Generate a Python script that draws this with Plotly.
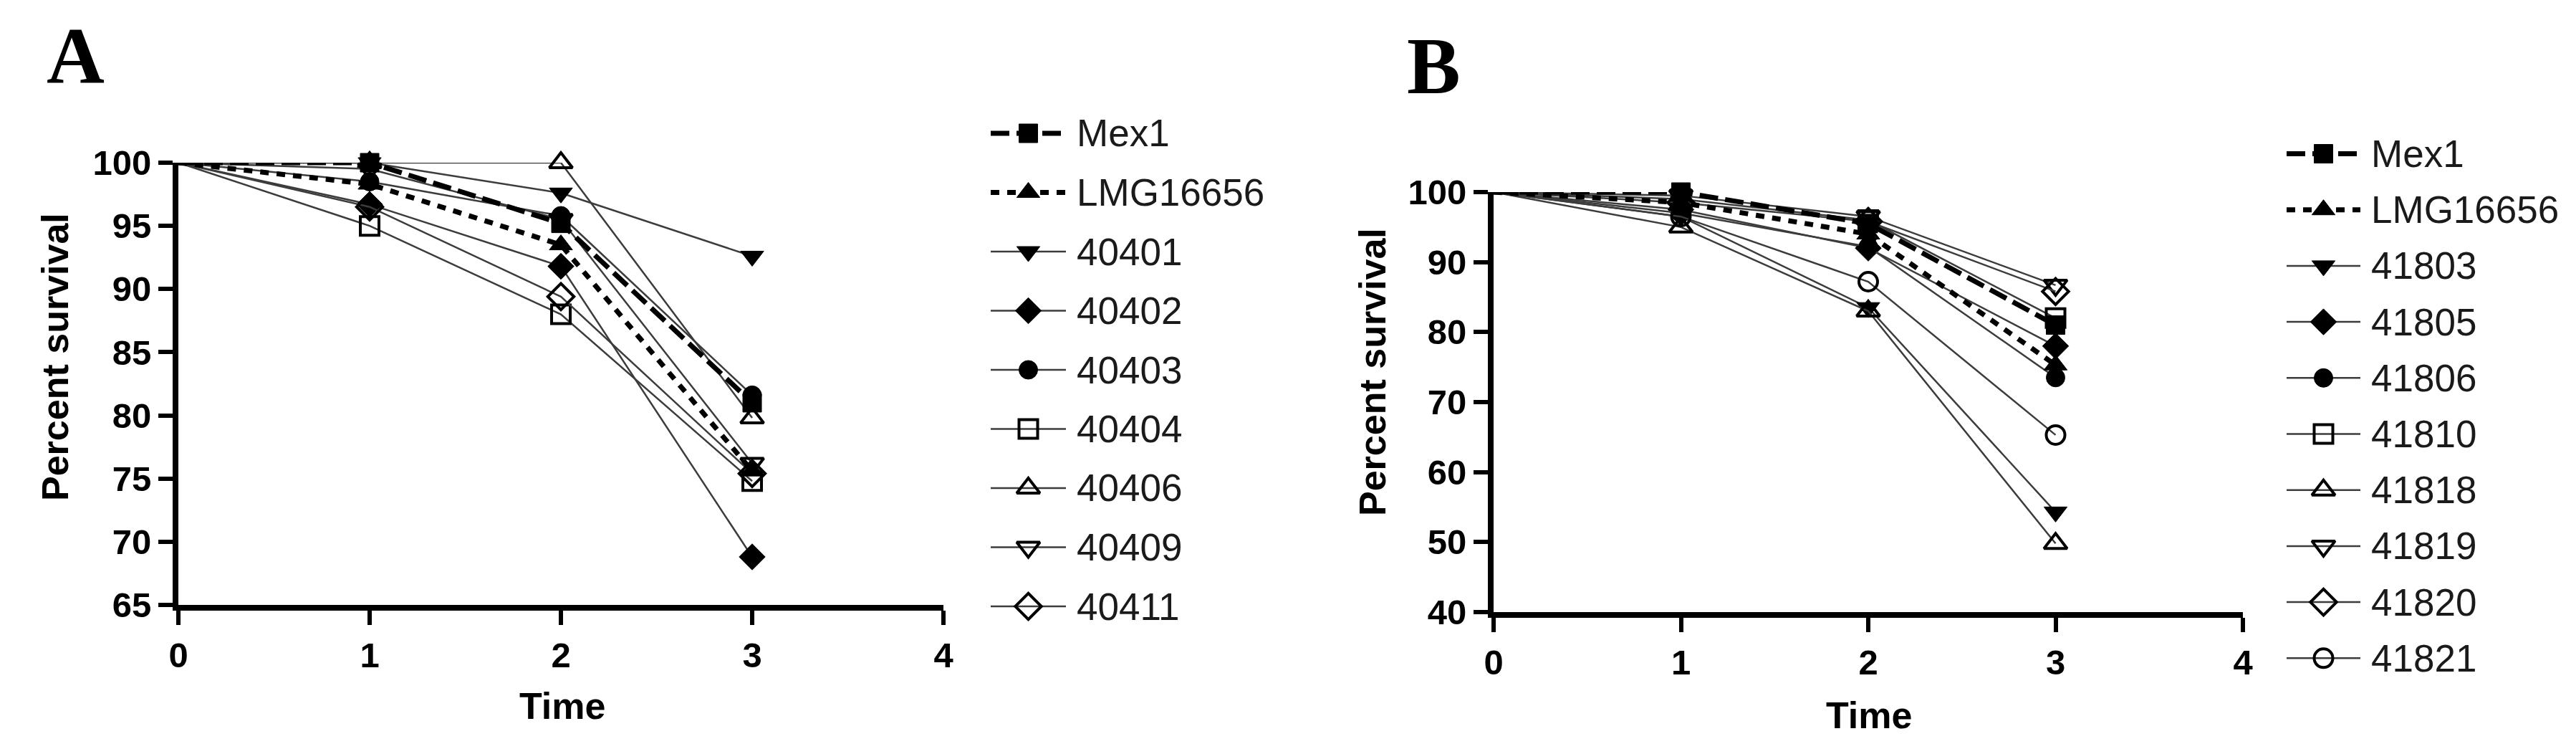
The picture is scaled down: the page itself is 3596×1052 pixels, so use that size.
import plotly.graph_objects as go

W, H = 3596, 1052

time = [0, 1, 2, 3]

# Panel A
names_a = ["Mex1", "LMG16656", "40401", "40402", "40403", "40404", "40406", "40409", "40411"]
mex1_a = [100, 100, 95.2, 81.0]
lmg_a = [100, 98.3, 93.5, 75.6]
s40401 = [100, 100, 97.6, 92.6]
s40402 = [100, 96.7, 91.8, 68.8]
s40403 = [100, 98.5, 95.8, 81.6]
s40404 = [100, 95.0, 88.0, 74.8]
s40406 = [100, 100, 100, 79.8]
s40409 = [100, 99.5, 95.5, 76.2]
s40411 = [100, 96.5, 89.4, 75.4]
values_a = [mex1_a, lmg_a, s40401, s40402, s40403, s40404, s40406, s40409, s40411]

# Panel B
names_b = ["Mex1", "LMG16656", "41803", "41805", "41806", "41810", "41818", "41819", "41820", "41821"]
mex1_b = [100, 100, 95.5, 81.0]
lmg_b = [100, 98.5, 94.0, 75.3]
s41803 = [100, 96.5, 83.5, 54.3]
s41805 = [100, 97.5, 92.0, 78.0]
s41806 = [100, 97.0, 92.2, 73.5]
s41810 = [100, 99.0, 96.0, 82.0]
s41818 = [100, 95.0, 83.0, 49.8]
s41819 = [100, 99.5, 96.5, 86.7]
s41820 = [100, 98.5, 95.8, 85.8]
s41821 = [100, 96.5, 87.2, 65.3]
values_b = [mex1_b, lmg_b, s41803, s41805, s41806, s41810, s41818, s41819, s41820, s41821]

x_ticks = [0, 1, 2, 3, 4]
y_ticks_a = [65, 70, 75, 80, 85, 90, 95, 100]
y_ticks_b = [40, 50, 60, 70, 80, 90, 100]

symbols_a = ["square", "triangle-up", "triangle-down", "diamond", "circle",
             "square-open", "triangle-up-open", "triangle-down-open", "diamond-open"]
symbols_b = ["square", "triangle-up", "triangle-down", "diamond", "circle",
             "square-open", "triangle-up-open", "triangle-down-open", "diamond-open", "circle-open"]

THIN = "#3c3c3c"


def style(i):
    if i == 0:
        return dict(color="black", width=7, dash="26px,10px")
    if i == 1:
        return dict(color="black", width=7, dash="12px,11px")
    return dict(color=THIN, width=2.5)


def msize(sym):
    if "triangle" in sym:
        return 28
    if "diamond" in sym:
        return 28
    return 26


def mline(sym):
    return dict(color="black", width=4 if "open" in sym else 1)


fig = go.Figure()


def add_panel(names, values, symbols, xa, ya):
    order = list(range(2, len(names))) + [1, 0]
    for i in order:
        s = msize(symbols[i])
        sizes = [0 if t == 0 else s for t in time]  # markers at the origin are hidden
        fig.add_trace(go.Scatter(
            x=time, y=values[i], name=names[i], mode="lines+markers",
            line=style(i),
            marker=dict(symbol=symbols[i], size=sizes, color="black", opacity=1,
                        line=mline(symbols[i])),
            xaxis=xa, yaxis=ya, showlegend=False, cliponaxis=False,
        ))


add_panel(names_a, values_a, symbols_a, "x", "y")
add_panel(names_b, values_b, symbols_b, "x2", "y2")


# Manual legends on a hidden pixel-coordinate overlay axis
def add_legend(names, symbols, x0, x1, y0, dy):
    xm = (x0 + x1) / 2
    for i, nm in enumerate(names):
        yy = y0 + dy * i
        fig.add_trace(go.Scatter(
            x=[x0, xm, x1], y=[yy, yy, yy], mode="lines+markers",
            line=style(i),
            marker=dict(symbol=symbols[i], size=[0, msize(symbols[i]), 0], color="black",
                        opacity=1, line=mline(symbols[i])),
            xaxis="x3", yaxis="y3", showlegend=False, hoverinfo="skip",
        ))
        fig.add_annotation(x=(x1 + 13) / W, y=1 - yy / H, xref="paper", yref="paper",
                           text=nm, showarrow=False, xanchor="left", yanchor="middle",
                           font=dict(family="Liberation Sans, Arial", size=53, color="#1a1a1a"))


add_legend(names_a, symbols_a, 1375, 1480, 178, 82.5)
add_legend(names_b, symbols_b, 3184, 3287, 206.5, 78.2)

axis_common = dict(
    showline=True, linecolor="black", linewidth=8, mirror=False,
    ticks="outside", ticklen=20, tickwidth=6, tickcolor="black",
    showgrid=False, zeroline=False, automargin=False,
    tickfont=dict(family="Liberation Sans, Arial", size=49, color="black", weight="bold"),
)

fig.update_layout(
    width=W, height=H,
    margin=dict(l=0, r=0, t=0, b=0),
    paper_bgcolor="white", plot_bgcolor="rgba(0,0,0,0)",
    showlegend=False,
    xaxis=dict(domain=[241 / W, 1309 / W], range=[0, 4], tickvals=x_ticks,
               anchor="y", **axis_common),
    yaxis=dict(domain=[1 - 836 / H, 1 - 219 / H], range=[65, 100], tickvals=y_ticks_a,
               anchor="x", **axis_common),
    xaxis2=dict(domain=[2077 / W, 3123 / W], range=[0, 4], tickvals=x_ticks,
                anchor="y2", **axis_common),
    yaxis2=dict(domain=[1 - 846 / H, 1 - 260 / H], range=[40, 100], tickvals=y_ticks_b,
                anchor="x2", **axis_common),
    xaxis3=dict(domain=[0, 1], range=[0, W], visible=False, anchor="y3"),
    yaxis3=dict(domain=[0, 1], range=[H, 0], visible=False, anchor="x3"),
)

title_font = dict(family="Liberation Sans, Arial", size=52, color="black", weight="bold")
panel_font = dict(family="Liberation Serif, Times New Roman", size=112, color="black", weight="bold")

annos = [
    dict(text="A", x=97 / W, y=1 - 70 / H, font=panel_font),
    dict(text="B", x=1994 / W, y=1 - 84 / H, font=panel_font),
    dict(text="Percent survival", x=69 / W, y=1 - 490 / H, textangle=-90, font=title_font),
    dict(text="Percent survival", x=1908 / W, y=1 - 511 / H, textangle=-90, font=title_font),
    dict(text="Time", x=777 / W, y=1 - 977 / H, font=title_font),
    dict(text="Time", x=2601 / W, y=1 - 990 / H, font=title_font),
]
for a in annos:
    fig.add_annotation(xref="paper", yref="paper", showarrow=False,
                       xanchor="center", yanchor="middle", **a)

fig.write_html("out.html")
